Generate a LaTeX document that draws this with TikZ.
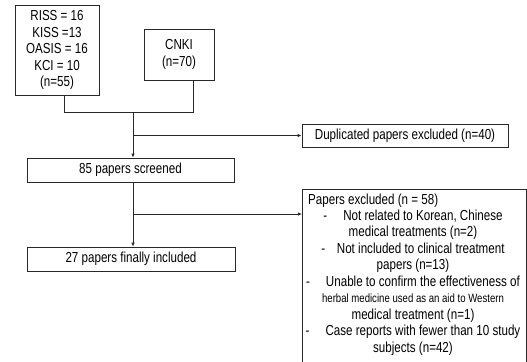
\documentclass[tikz,border=0pt]{standalone}
\usepackage{fontspec}
\setmainfont{Liberation Sans}[FakeStretch=0.8]
\definecolor{flowline}{RGB}{40,40,40}
\usetikzlibrary{arrows.meta, positioning, calc}

\begin{document}
\begin{tikzpicture}[x=1bp, y=-1bp,
  box/.style={draw=flowline, line width=0.8bp, inner sep=0pt, align=center,
    font=\fontsize{14.5bp}{16.5bp}\selectfont},
  note/.style={inner sep=0pt, font=\fontsize{14.5bp}{16.5bp}\selectfont},
  link/.style={draw=flowline, line width=0.8bp},
  arr/.style={link, -{Latex[length=4bp, width=3.5bp]}}]
  \clip (0,0) rectangle (527,361);

  % sources
  \node[box, minimum width=84bp, minimum height=90bp] (db) at (57,50)
    {RISS = 16\\ KISS =13\\ OASIS = 16\\ KCI = 10\\ (n=55)};
  \node[box, minimum width=70bp, minimum height=51bp] (cnki) at (179,54.5)
    {CNKI\\ (n=70)};
  \coordinate (join) at (133,112);
  \draw[link] ([xshift=7bp]db.south) |- (join);
  \draw[link] ([xshift=14bp]cnki.south) |- (join);

  % screening
  \node[box, minimum width=206bp, minimum height=23bp] (dup) at (405,135.5)
    {Duplicated papers excluded (n=40)};
  \node[box, minimum width=207bp, minimum height=24bp] (screened) at (130.5,170)
    {85 papers screened};
  \node[box, minimum width=208bp, minimum height=24bp] (final) at (131,259)
    {27 papers finally included};
  \node[box, anchor=north west, minimum width=224bp, minimum height=220bp]
    (excl) at (302,189) {};

  \draw[arr] (join) -- (join |- screened.north);
  \draw[arr] (join |- dup.west) -- (dup.west);
  \draw[arr] (join |- screened.south) -- (join |- final.north);
  \coordinate (split) at (133,214);
  \draw[arr] (split) -- (split -| excl.west);

  % reasons for exclusion
  \node[note, anchor=west] (exclhead) at (308,201) {Papers excluded (n = 58)};
  \node[note, align=center] (excllist) at (413,282.5)
    {-\hspace{1.1em}Not related to Korean, Chinese\\
     medical treatments (n=2)\\
     -\hspace{0.8em}Not included to clinical treatment\\
     papers (n=13)\\
     -\hspace{1.1em}Unable to confirm the effectiveness of\\
     {\fontsize{12bp}{15.5bp}\selectfont herbal medicine used as an aid to Western}\\
     medical treatment (n=1)\\
     -\hspace{1.1em}Case reports with fewer than 10 study\\
     subjects (n=42)};
\end{tikzpicture}
\end{document}
